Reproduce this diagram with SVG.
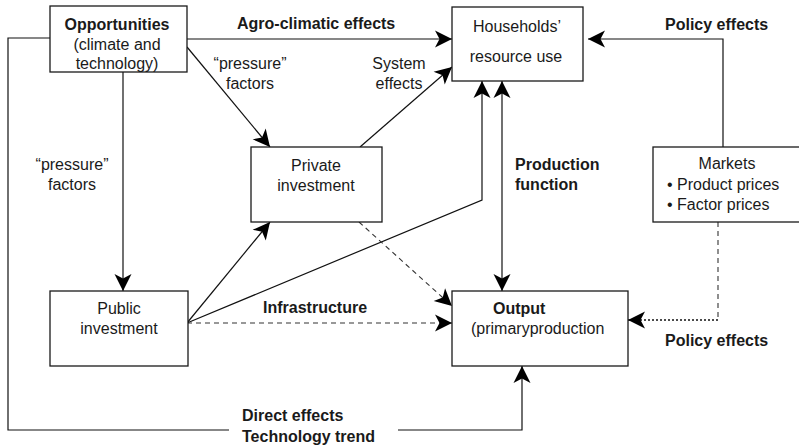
<svg xmlns="http://www.w3.org/2000/svg" width="799" height="446" viewBox="0 0 799 446">
<style>
  .box { fill: #ffffff; stroke: #1a1a1a; stroke-width: 1.3; }
  .t { font-family: "Liberation Sans", Arial, sans-serif; font-size: 16px; fill: #1a1a1a; }
  .b { font-weight: bold; }
  .m { text-anchor: middle; }
  .ln { fill: none; stroke: #111111; stroke-width: 1.2; }
  .dash { fill: none; stroke: #333333; stroke-width: 1.1; stroke-dasharray: 5 4; }
  .dot { fill: none; stroke: #111111; stroke-width: 1.3; stroke-dasharray: 2 2; }
  .arr { marker-end: url(#ah); }
</style>
<defs>
  <marker id="ah" markerUnits="userSpaceOnUse" markerWidth="20" markerHeight="20" viewBox="-18 -10 20 20" refX="0" refY="0" orient="auto-start-reverse">
    <path d="M0,0 L-17,-8.5 L-12.5,0 L-17,8.5 Z" fill="#000000"/>
  </marker>
</defs>
<rect width="799" height="446" fill="#ffffff"/>

<g id="connectors">
  <path class="ln arr" d="M187,39 L452,39"/>
  <path class="ln" d="M50,38 L8,38 L8,430 L229,430"/>
  <path class="ln arr" d="M398,430 L522,430 L522,366"/>
  <path class="ln arr" d="M123,72 L123,291"/>
  <path class="ln arr" d="M187,47 L270,147"/>
  <path class="ln arr" d="M360,147 L452,67"/>
  <path class="ln arr" d="M187,323 L270,222"/>
  <path class="ln arr" d="M187,323 L482,200 L482,81"/>
  <path class="dash arr" d="M187,323 L452,323"/>
  <path class="dash arr" d="M359,222 L452,306"/>
  <path class="ln" style="marker-start:url(#ah);marker-end:url(#ah)" d="M502,81 L502,291"/>
  <path class="ln arr" d="M723,147 L723,39 L588,39"/>
  <path class="dash" d="M718,222 L718,320"/>
  <path class="dot arr" d="M718,320 L628,320"/>
</g>

<g id="opportunities">
  <rect class="box" x="50" y="6" width="137" height="66"/>
  <text class="t b m" x="117" y="30">Opportunities</text>
  <text class="t m" x="117" y="50">(climate and</text>
  <text class="t m" x="117" y="69">technology)</text>
</g>

<g id="households">
  <rect class="box" x="452" y="7" width="131" height="74"/>
  <text class="t m" x="517" y="32">Households’</text>
  <text class="t m" x="516" y="62">resource use</text>
</g>

<g id="private-investment">
  <rect class="box" x="251" y="147" width="131" height="75"/>
  <text class="t m" x="316" y="171">Private</text>
  <text class="t m" x="316" y="191">investment</text>
</g>

<g id="markets">
  <rect class="box" x="653" y="147" width="160" height="75"/>
  <text class="t m" x="727" y="169">Markets</text>
  <text class="t" x="667" y="190">• Product prices</text>
  <text class="t" x="667" y="210">• Factor prices</text>
</g>

<g id="public-investment">
  <rect class="box" x="50" y="291" width="138" height="75"/>
  <text class="t m" x="119" y="314">Public</text>
  <text class="t m" x="119" y="334">investment</text>
</g>

<g id="output">
  <rect class="box" x="452" y="291" width="176" height="75"/>
  <text class="t b" x="493" y="314">Output</text>
  <text class="t" x="471" y="334">(primaryproduction</text>
</g>

<g id="labels">
  <text class="t b" x="237" y="29">Agro-climatic effects</text>
  <text class="t b" x="665" y="30">Policy effects</text>
  <text class="t m" x="250" y="69">“pressure”</text>
  <text class="t m" x="250" y="89">factors</text>
  <text class="t m" x="399" y="69">System</text>
  <text class="t m" x="399" y="89">effects</text>
  <text class="t m" x="72" y="170">“pressure”</text>
  <text class="t m" x="72" y="190">factors</text>
  <text class="t b" x="515" y="170">Production</text>
  <text class="t b" x="515" y="190">function</text>
  <text class="t b" x="263" y="313">Infrastructure</text>
  <text class="t b" x="665" y="346">Policy effects</text>
  <text class="t b" x="242" y="421">Direct effects</text>
  <text class="t b" x="242" y="442">Technology trend</text>
</g>
</svg>
